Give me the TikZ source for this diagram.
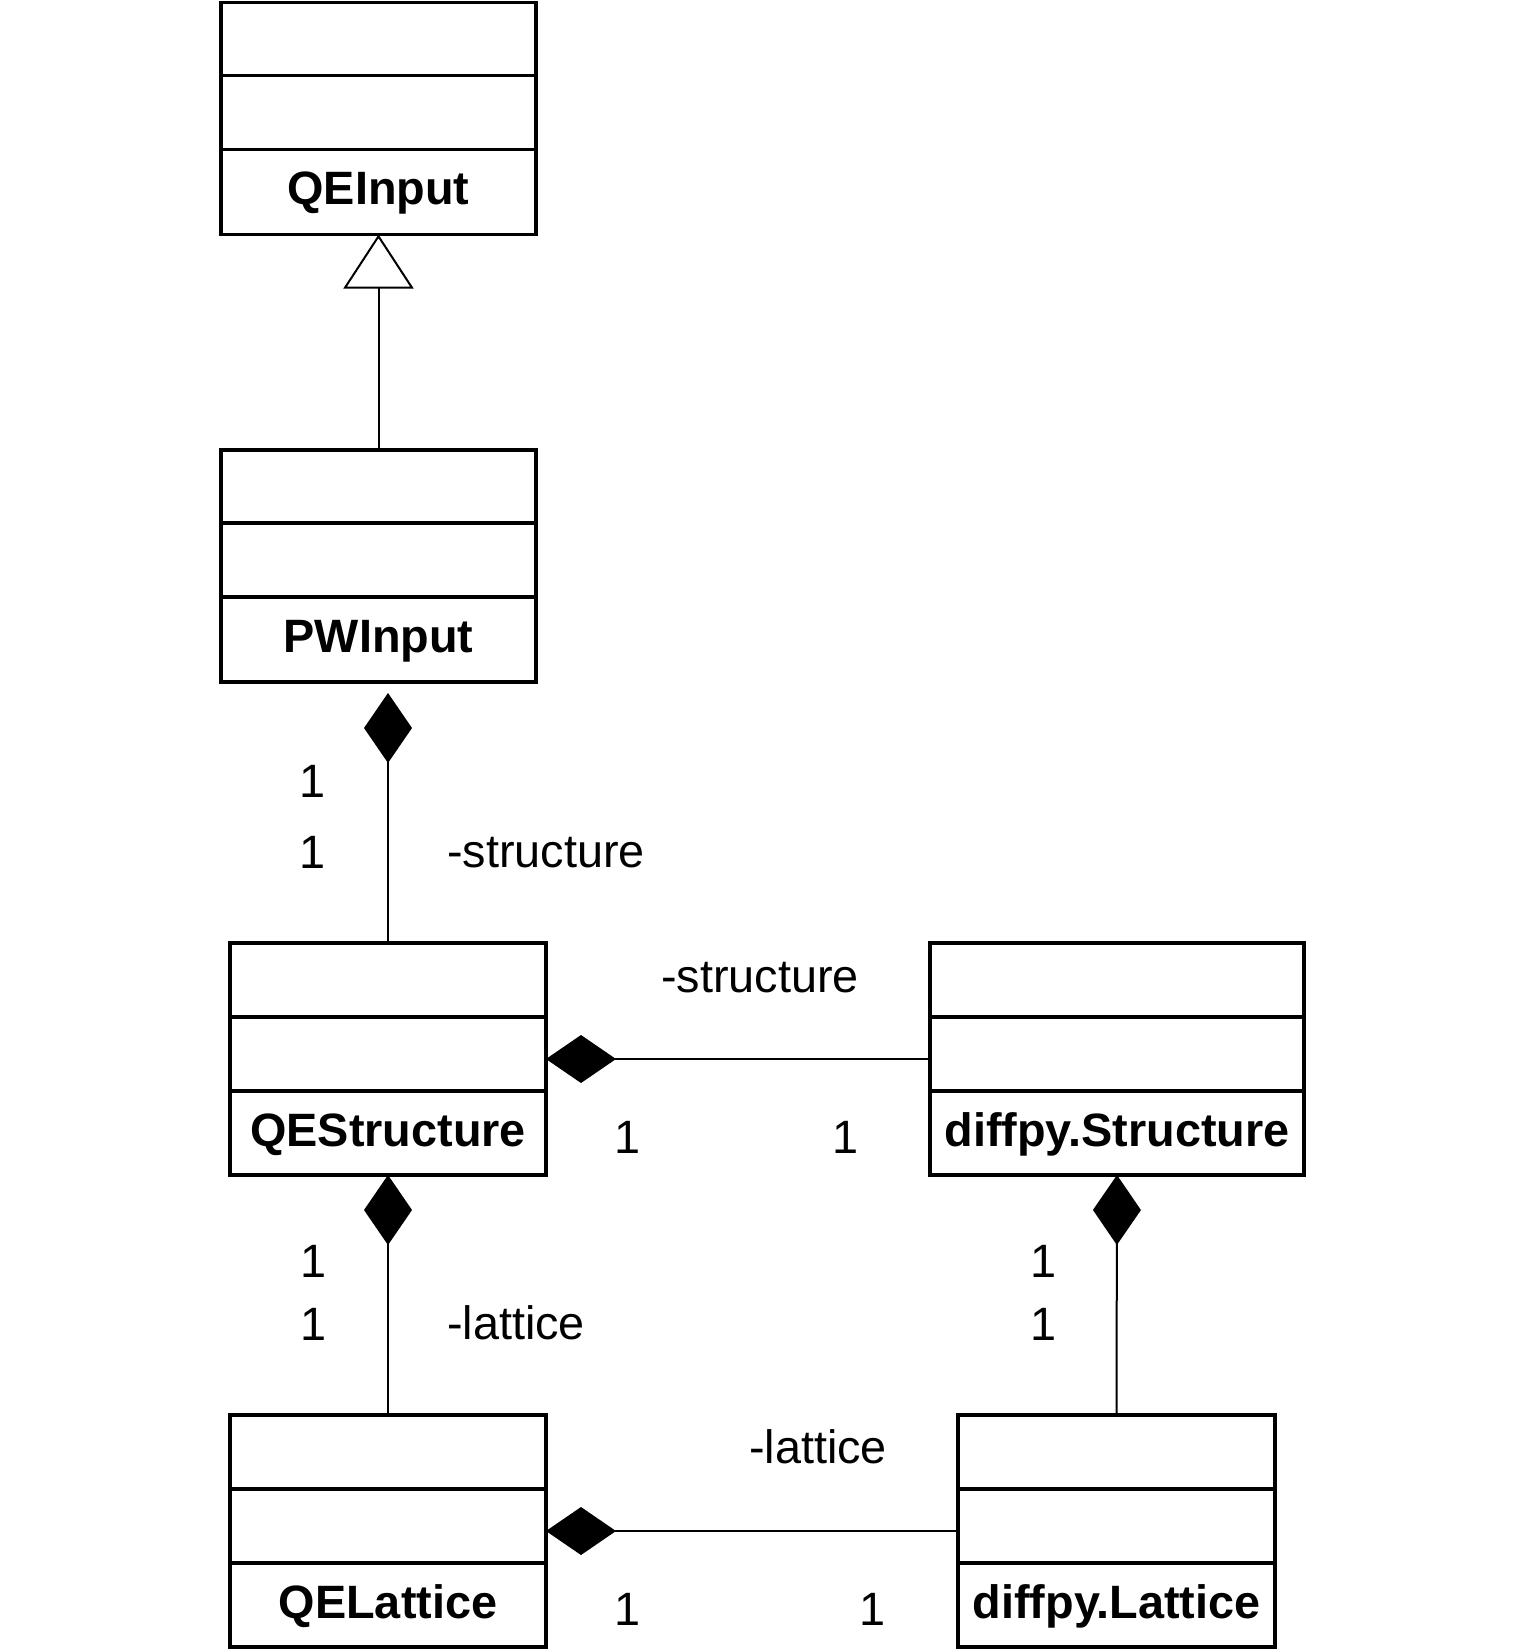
\documentclass[tikz,border=0pt]{standalone}
\usepackage{fontspec}
\setmainfont{Liberation Sans}
\usetikzlibrary{arrows.meta,calc}

\begin{document}
\begin{tikzpicture}[x=0.5pt,y=-0.5pt,font=\fontsize{23.4}{28}\selectfont,
  classbox/.style={draw,line width=1.6pt,outer sep=0pt,inner sep=0pt,anchor=north west,minimum height=116pt},
  divider/.style={line width=1.6pt},
  classname/.style={font=\fontsize{23.4}{28}\selectfont\bfseries,anchor=base},
  mult/.style={anchor=base},
  role/.style={anchor=base west},
  assoc/.style={line width=1pt},
  comp/.style={assoc,{Diamond[length=35pt,width=24pt]}-},
  inherit/.style={assoc,-{Triangle[open,length=27pt,width=35pt,fill=white]}}]
   \useasboundingbox (0,0) rectangle (1525,1650);

   % クラス
   \node[classbox,minimum width=157.5pt] (qeinput) at (221,2.5) {};
   \node[classbox,minimum width=157.5pt] (pwinput) at (221,450) {};
   \node[classbox,minimum width=158pt] (qestructure) at (230,943) {};
   \node[classbox,minimum width=187pt] (diffpystructure) at (930,943) {};
   \node[classbox,minimum width=158pt] (qelattice) at (230,1415) {};
   \node[classbox,minimum width=158.5pt] (diffpylattice) at (958,1415) {};

   \draw[divider] ($(qeinput.north west)+(0,73)$) -- ($(qeinput.north east)+(0,73)$)
                  ($(qeinput.north west)+(0,147)$) -- ($(qeinput.north east)+(0,147)$);
   \draw[divider] ($(pwinput.north west)+(0,73)$) -- ($(pwinput.north east)+(0,73)$)
                  ($(pwinput.north west)+(0,147)$) -- ($(pwinput.north east)+(0,147)$);
   \draw[divider] ($(qestructure.north west)+(0,74)$) -- ($(qestructure.north east)+(0,74)$)
                  ($(qestructure.north west)+(0,148)$) -- ($(qestructure.north east)+(0,148)$);
   \draw[divider] ($(diffpystructure.north west)+(0,74)$) -- ($(diffpystructure.north east)+(0,74)$)
                  ($(diffpystructure.north west)+(0,148)$) -- ($(diffpystructure.north east)+(0,148)$);
   \draw[divider] ($(qelattice.north west)+(0,74)$) -- ($(qelattice.north east)+(0,74)$)
                  ($(qelattice.north west)+(0,148)$) -- ($(qelattice.north east)+(0,148)$);
   \draw[divider] ($(diffpylattice.north west)+(0,74)$) -- ($(diffpylattice.north east)+(0,74)$)
                  ($(diffpylattice.north west)+(0,148)$) -- ($(diffpylattice.north east)+(0,148)$);

   \node[classname] (qeinputname) at ($(qeinput.north)+(0,202)$) {QEInput};
   \node[classname] (pwinputname) at ($(pwinput.north)+(0,202)$) {PWInput};
   \node[classname] (qestructurename) at ($(qestructure.north)+(0,203)$) {QEStructure};
   \node[classname] (diffpystructurename) at ($(diffpystructure.north)+(0,203)$) {diffpy.Structure};
   \node[classname] (qelatticename) at ($(qelattice.north)+(0,203)$) {QELattice};
   \node[classname] (diffpylatticename) at ($(diffpylattice.north)+(0,203)$) {diffpy.Lattice};

   % 関連
   \draw[inherit] (pwinput.north) -- (qeinput.south);
   \draw[comp,shorten <=5.5pt] (qestructure.north |- pwinput.south) -- (qestructure.north);
   \draw[comp] (qestructure.east) -- (diffpystructure.west);
   \draw[comp] (qestructure.south) -- (qelattice.north);
   \draw[comp] (diffpystructure.south) -- (diffpylattice.north);
   \draw[comp] (qelattice.east) -- (diffpylattice.west);

   % 多重度とロール名
   \node[mult] (mpw1) at (313,797) {1};
   \node[mult] (mpw2) at (313,868) {1};
   \node[role] (rpw) at (440,867) {-structure};
   \node[mult] (mqs1) at (628,1153) {1};
   \node[mult] (mqs2) at (846,1153) {1};
   \node[role] (rqs) at (654,992) {-structure};
   \node[mult] (mql1) at (314,1277) {1};
   \node[mult] (mql2) at (314,1340) {1};
   \node[role] (rql) at (440,1339) {-lattice};
   \node[mult] (mdl1) at (1044,1277) {1};
   \node[mult] (mdl2) at (1044,1340) {1};
   \node[mult] (mll1) at (628,1625) {1};
   \node[mult] (mll2) at (873,1625) {1};
   \node[role] (rll) at (742,1463) {-lattice};

\end{tikzpicture}
\end{document}
